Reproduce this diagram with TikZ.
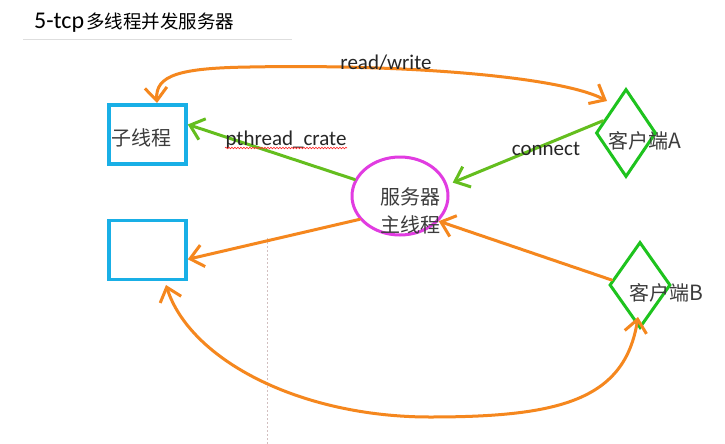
\documentclass[tikz,border=0pt]{standalone}
\usepackage{fontspec}
\setmainfont{Carlito}
\newfontfamily\cjk{Noto Sans CJK SC}
\usetikzlibrary{arrows.meta,shapes.geometric,decorations.pathmorphing}
\definecolor{orC}{RGB}{245,135,30}
\definecolor{grArrow}{RGB}{100,190,30}
\definecolor{grDia}{RGB}{30,195,30}
\definecolor{blC}{RGB}{25,175,230}
\definecolor{mgC}{RGB}{225,60,225}
\definecolor{txC}{RGB}{60,60,60}
\begin{document}
\begin{tikzpicture}[x=1pt,y=-1pt,
  barb/.style={-{Straight Barb[length=13pt,width=22pt,line width=3pt]}},
  dbarb/.style={{Straight Barb[length=13pt,width=22pt,line width=3pt]}-{Straight Barb[length=13pt,width=22pt,line width=3pt]}},
  orline/.style={draw=orC,line width=3pt,line cap=round},
  grline/.style={draw=grArrow,line width=3pt,line cap=round},
  tbox/.style={draw=blC,line width=3.5pt,minimum width=77pt,minimum height=59pt,inner sep=0pt},
  cdia/.style={diamond,draw=grDia,line width=3pt,inner sep=0pt},
  cjktext/.style={font=\cjk\fontsize{20}{24}\selectfont,text=txC,inner sep=0pt},
  lbl/.style={font=\fontsize{21}{24}\selectfont,text=black!85,inner sep=0pt}]
\useasboundingbox (0,0) rectangle (725,444);
\fill[white] (0,0) rectangle (725,444);

% title
\node[anchor=west,inner sep=0pt] (title) at (34,23)
  {\fontsize{24}{28}\selectfont 5-tcp\hspace{2pt}{\cjk\fontsize{18.5}{22}\selectfont 多线程并发服务器}};
\draw[black!13,line width=1pt] (23,40) -- (292,40);

% faint screen artefact line
\draw[red!30!black!25,line width=0.6pt,dash pattern=on 2pt off 2pt] (267,238) -- (267,444);

% nodes
\node[tbox] (sub1) at (147.5,134.5) {};
\node[cjktext] (t1) at (141,138) {子线程};
\node[tbox] (sub2) at (147.5,250) {};
\node[ellipse,draw=mgC,line width=3pt,minimum width=96pt,minimum height=78pt,inner sep=0pt] (srv) at (400,196) {};
\node[cjktext,align=center] (srvt) at (410,211) {服务器\\[4pt]主线程};
\node[cdia,minimum width=60pt,minimum height=88pt] (dA) at (626,133) {};
\node[cjktext] (tA) at (645,141) {客户端\fontsize{21}{24}\selectfont A};
\node[cdia,minimum width=61pt,minimum height=86pt] (dB) at (640,285) {};
\node[cjktext] (tB) at (666,293) {客户端\fontsize{21}{24}\selectfont B};

% coordinates for free ends
\coordinate (rw1) at (157,103);
\coordinate (rw2) at (607,101);
\coordinate (bc1) at (166,285);
\coordinate (bc2) at (638,317);

% read/write arc
\draw[orline,dbarb] (rw1) .. controls (155,75) and (180,68) .. (250,67)
  .. controls (400,64) and (560,76) .. (rw2);
\node[lbl] (rwl) at (386,63) {read/write};

% connect
\draw[grline,barb] (dA.152) -- ([xshift=6pt]srv.16);
\node[lbl] (conl) at (546,149) {connect};

% pthread_crate
\draw[grline,barb] (srv.160) -- (sub1.14);
\node[lbl] (ptl) at (286,140) {pthread\_crate};
\draw[red!85,line width=0.6pt,decorate,decoration={snake,amplitude=0.8pt,segment length=3pt}] (225,148) -- (347,148);

% server -> second thread
\draw[orline,barb] (srv.210) -- (sub2.-13);

% client B -> server
\draw[orline,barb] (dB.170) -- (srv.-33);

% bottom arc
\draw[orline,dbarb] (bc1) .. controls (190,360) and (300,417) .. (430,417)
  .. controls (560,417) and (625,400) .. (bc2);
\end{tikzpicture}
\end{document}
